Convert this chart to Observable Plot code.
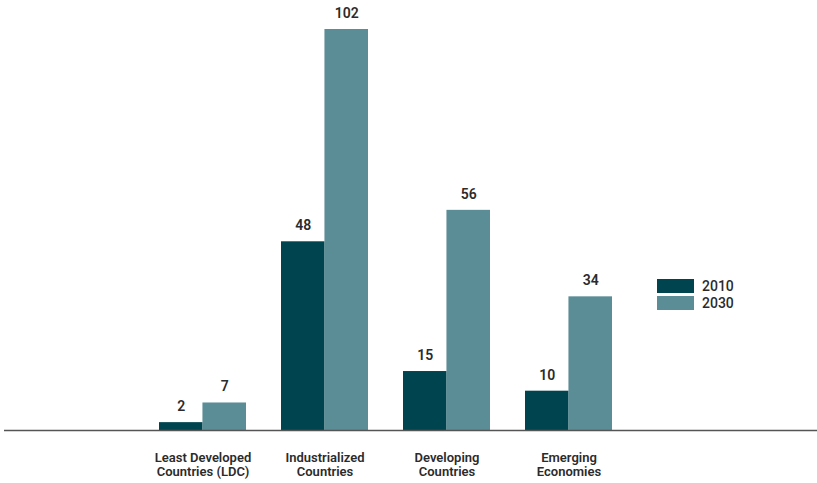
<!DOCTYPE html>
<html>
<head>
<meta charset="utf-8">
<script src="https://cdn.jsdelivr.net/npm/d3@7"></script>
<script src="https://cdn.jsdelivr.net/npm/@observablehq/plot@0.6"></script>
<style>
  html, body { margin: 0; padding: 0; background: #fff; }
  #wrap { position: relative; width: 817px; height: 483px; font-family: Roboto, "Noto Sans", sans-serif; }
  .legend { position: absolute; left: 657px; top: 277px; font-size: 14px; font-weight: 500; color: #2b2b2b; }
  .legend div { display: flex; align-items: center; height: 17px; }
  .legend span.sw { display: inline-block; width: 37px; height: 14px; margin-right: 8px; }
</style>
</head>
<body>
<div id="wrap"></div>
<script>
const categories = ["Least Developed Countries (LDC)", "Industrialized Countries", "Developing Countries", "Emerging Economies"];
const categoryLabels = ["Least Developed\nCountries (LDC)", "Industrialized\nCountries", "Developing\nCountries", "Emerging\nEconomies"];
const years = ["2010", "2030"];
const values2010 = [2, 48, 15, 10];
const values2030 = [7, 102, 56, 34];
const colors = ["#00444f", "#5b8d97"];

const rows = [];
categories.forEach((c, i) => {
  rows.push({category: c, year: "2010", value: values2010[i]});
  rows.push({category: c, year: "2030", value: values2030[i]});
});
const labelRows = categories.map((c, i) => ({category: c, label: categoryLabels[i]}));

const xRange = [158, 612];
const padIn = 0.29;
const step = (xRange[1] - xRange[0]) / (categories.length - padIn);
const bw = step * (1 - padIn);
const half = bw / 2;

const r2010 = rows.filter(d => d.year === "2010");
const r2030 = rows.filter(d => d.year === "2030");

const chart = Plot.plot({
  width: 817,
  height: 483,
  marginLeft: 4,
  marginRight: 0,
  marginTop: 0,
  marginBottom: 0,
  style: {fontFamily: "Roboto, 'Noto Sans', sans-serif", color: "#2b2b2b", background: "#fff"},
  x: {domain: categories, range: xRange, paddingInner: padIn, paddingOuter: 0, axis: null},
  y: {domain: [0, 102], range: [430, 29], axis: null},
  color: {domain: years, range: colors},
  marks: [
    Plot.barY(r2010, {x: "category", y: "value", fill: "year", insetRight: half}),
    Plot.barY(r2030, {x: "category", y: "value", fill: "year", insetLeft: half}),
    Plot.ruleY([0], {stroke: "#555", strokeWidth: 1.5}),
    Plot.text(r2010, {x: "category", y: "value", text: d => String(d.value), dx: -half / 2, dy: -16, fontSize: 14, fontWeight: 600, fill: "#2b2b2b"}),
    Plot.text(r2030, {x: "category", y: "value", text: d => String(d.value), dx: half / 2, dy: -16, fontSize: 14, fontWeight: 600, fill: "#2b2b2b"}),
    Plot.text(labelRows, {x: "category", y: () => 0, text: "label", dy: 21, lineAnchor: "top", lineHeight: 1.12, fontSize: 13, fontWeight: 600, fill: "#2b2b2b"})
  ]
});

const wrap = document.getElementById("wrap");
wrap.appendChild(chart);
const legend = document.createElement("div");
legend.className = "legend";
years.forEach((y, i) => {
  const row = document.createElement("div");
  row.innerHTML = `<span class="sw" style="background:${colors[i]}"></span><span>${y}</span>`;
  legend.appendChild(row);
});
wrap.appendChild(legend);
</script>
</body>
</html>
